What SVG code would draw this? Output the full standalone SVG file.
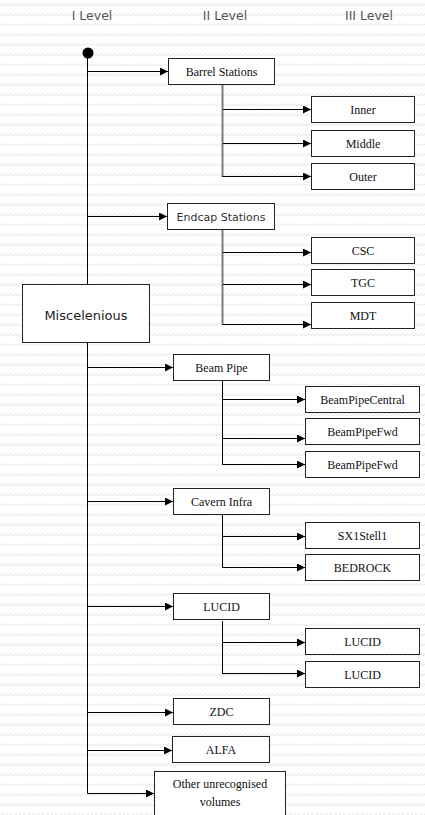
<svg xmlns="http://www.w3.org/2000/svg" width="425" height="815" viewBox="0 0 425 815">
<defs>
<pattern id="bg" width="9" height="10" patternUnits="userSpaceOnUse">
<path d="M0,6 L2.25,3.5 L4.5,6 L6.75,3.5 L9,6" fill="none" stroke="#e4e4e4" stroke-width="1"/>
</pattern>
<marker id="ah" viewBox="0 0 10 10" refX="10" refY="5" markerWidth="8" markerHeight="8" markerUnits="userSpaceOnUse" orient="auto">
<path d="M0,0 L10,5 L0,10 z" fill="#000"/>
</marker>
</defs>
<style>
.box{fill:#fff;stroke:#222;stroke-width:1}
.serif{font-family:"Liberation Serif","Times New Roman",serif;font-size:12px;fill:#111;text-anchor:middle}
.sans{font-family:"DejaVu Sans","Liberation Sans",sans-serif;text-anchor:middle}
.hdr{font-size:12.5px;fill:#555}
.arr{stroke:#000;stroke-width:1;fill:none;marker-end:url(#ah)}
.trunk{stroke:#000;stroke-width:1;fill:none}
.sub{stroke:#7a7a7a;stroke-width:2;fill:none}
</style>
<rect width="425" height="815" fill="#fff"/>
<rect width="425" height="815" fill="url(#bg)"/>

<g id="headers">
<text class="sans hdr" x="92" y="20">I Level</text>
<text class="sans hdr" x="225" y="20">II Level</text>
<text class="sans hdr" x="369" y="20">III Level</text>
</g>

<g id="connectors">
<circle cx="88" cy="53" r="5.5" fill="#000"/>
<line class="trunk" x1="87.5" y1="53" x2="87.5" y2="284"/>
<polyline class="trunk" points="87.5,343 87.5,793.5 100,793.5"/>
<line class="arr" x1="87.5" y1="71.5" x2="168" y2="71.5"/>
<line class="arr" x1="87.5" y1="216.5" x2="167" y2="216.5"/>
<line class="arr" x1="88" y1="367.5" x2="173" y2="367.5"/>
<line class="arr" x1="88" y1="501.5" x2="173" y2="501.5"/>
<line class="arr" x1="88" y1="606.5" x2="173" y2="606.5"/>
<line class="arr" x1="88" y1="712.5" x2="173" y2="712.5"/>
<line class="arr" x1="88" y1="750.5" x2="172" y2="750.5"/>
<line class="arr" x1="88" y1="793.5" x2="154" y2="793.5"/>

<line class="sub" x1="222.5" y1="84" x2="222.5" y2="176.5"/>
<line class="arr" x1="223" y1="109.5" x2="311" y2="109.5"/>
<line class="arr" x1="223" y1="143.5" x2="311" y2="143.5"/>
<line class="arr" x1="222" y1="176.5" x2="311" y2="176.5"/>

<line class="sub" x1="222.5" y1="229" x2="222.5" y2="324.5"/>
<line class="arr" x1="223" y1="252.5" x2="311" y2="252.5"/>
<line class="arr" x1="223" y1="284.5" x2="311" y2="284.5"/>
<line class="arr" x1="222" y1="324.5" x2="311" y2="324.5"/>

<line class="trunk" x1="222.5" y1="381" x2="222.5" y2="464.5"/>
<line class="arr" x1="223" y1="399.5" x2="305" y2="399.5"/>
<line class="arr" x1="223" y1="438.5" x2="305" y2="438.5"/>
<line class="arr" x1="222" y1="464.5" x2="305" y2="464.5"/>

<line class="trunk" x1="222.5" y1="515" x2="222.5" y2="567.5"/>
<line class="arr" x1="223" y1="536.5" x2="305" y2="536.5"/>
<line class="arr" x1="222" y1="567.5" x2="305" y2="567.5"/>

<line class="trunk" x1="222.5" y1="621" x2="222.5" y2="673.5"/>
<line class="arr" x1="223" y1="642.5" x2="305" y2="642.5"/>
<line class="arr" x1="222" y1="673.5" x2="305" y2="673.5"/>
</g>

<g id="miscelenious">
<rect class="box" x="22.5" y="284.5" width="127" height="58"/>
<text class="sans" x="86" y="320" font-size="13" fill="#222">Miscelenious</text>
</g>

<g id="barrel">
<rect class="box" x="168.5" y="58.5" width="106" height="26"/>
<text class="serif" x="221.5" y="76">Barrel Stations</text>
</g>
<g id="inner"><rect class="box" x="311.5" y="96.5" width="103" height="26"/><text class="serif" x="363" y="114">Inner</text></g>
<g id="middle"><rect class="box" x="311.5" y="130.5" width="103" height="26"/><text class="serif" x="363" y="148">Middle</text></g>
<g id="outer"><rect class="box" x="311.5" y="163.5" width="103" height="26"/><text class="serif" x="363" y="181">Outer</text></g>

<g id="endcap">
<rect class="box" x="167.5" y="203.5" width="107" height="26"/>
<text class="sans" x="221" y="221" font-size="11" fill="#333">Endcap Stations</text>
</g>
<g id="csc"><rect class="box" x="311.5" y="237.5" width="103" height="26"/><text class="serif" x="363" y="255">CSC</text></g>
<g id="tgc"><rect class="box" x="311.5" y="269.5" width="103" height="26"/><text class="serif" x="363" y="287">TGC</text></g>
<g id="mdt"><rect class="box" x="311.5" y="302.5" width="103" height="26"/><text class="serif" x="363" y="320">MDT</text></g>

<g id="beampipe">
<rect class="box" x="173.5" y="354.5" width="96" height="26"/>
<text class="serif" x="221.5" y="372">Beam Pipe</text>
</g>
<g id="bpcentral"><rect class="box" x="305.5" y="386.5" width="114" height="26"/><text class="serif" x="362.5" y="404">BeamPipeCentral</text></g>
<g id="bpfwd1"><rect class="box" x="305.5" y="418.5" width="114" height="26"/><text class="serif" x="362.5" y="436">BeamPipeFwd</text></g>
<g id="bpfwd2"><rect class="box" x="305.5" y="451.5" width="114" height="26"/><text class="serif" x="362.5" y="469">BeamPipeFwd</text></g>

<g id="cavern">
<rect class="box" x="173.5" y="488.5" width="96" height="26"/>
<text class="serif" x="221.5" y="506">Cavern Infra</text>
</g>
<g id="sx1"><rect class="box" x="305.5" y="522.5" width="114" height="26"/><text class="serif" x="362.5" y="540">SX1Stell1</text></g>
<g id="bedrock"><rect class="box" x="305.5" y="554.5" width="114" height="26"/><text class="serif" x="362.5" y="572">BEDROCK</text></g>

<g id="lucid">
<rect class="box" x="173.5" y="593.5" width="96" height="26"/>
<text class="serif" x="221.5" y="611">LUCID</text>
</g>
<g id="lucid1"><rect class="box" x="305.5" y="628.5" width="114" height="26"/><text class="serif" x="362.5" y="646">LUCID</text></g>
<g id="lucid2"><rect class="box" x="305.5" y="661.5" width="114" height="26"/><text class="serif" x="362.5" y="679">LUCID</text></g>

<g id="zdc"><rect class="box" x="173.5" y="698.5" width="96" height="26"/><text class="serif" x="221.5" y="716">ZDC</text></g>
<g id="alfa"><rect class="box" x="172.5" y="736.5" width="97" height="26"/><text class="serif" x="221" y="754">ALFA</text></g>

<g id="other">
<rect class="box" x="154.5" y="771.5" width="131" height="50"/>
<text class="serif" x="220" y="788">Other unrecognised</text>
<text class="serif" x="220" y="806">volumes</text>
</g>
</svg>
